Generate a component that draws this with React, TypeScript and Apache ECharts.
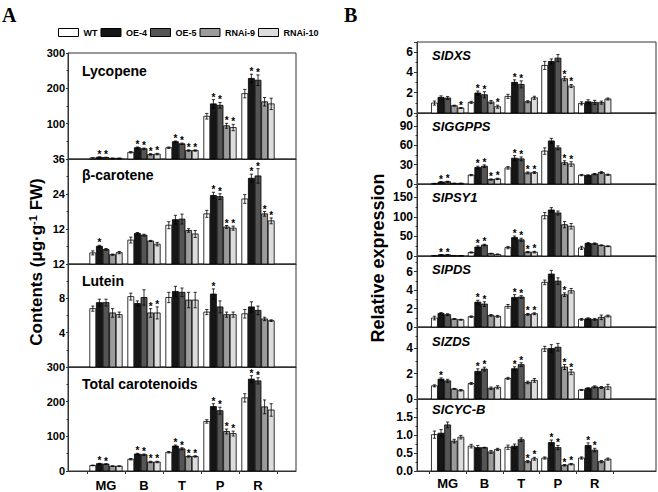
import React, { useEffect, useRef } from 'react';
import * as echarts from 'echarts';

const GROUPS = ['WT', 'OE-4', 'OE-5', 'RNAi-9', 'RNAi-10'];
const STAGES = ['MG', 'B', 'T', 'P', 'R'];
const COLORS = ['#ffffff', '#161616', '#555555', '#9b9b9b', '#dddddd'];

// rows = stages (MG, B, T, P, R); columns = groups (WT, OE-4, OE-5, RNAi-9, RNAi-10)
const lycopeneMean = [[3, 5, 4, 2, 2], [19, 32, 29, 13, 14], [32, 49, 43, 24, 24], [121, 156, 152, 94, 89], [185, 228, 223, 162, 156]];
const lycopeneErr = [[0.5, 1, 1, 0.5, 0.5], [2, 2, 2, 2, 2], [2, 2, 2, 2, 2], [8, 12, 8, 7, 9], [12, 12, 15, 12, 16]];
const lycopeneStar = [[0, 1, 1, 0, 0], [0, 1, 1, 1, 1], [0, 1, 1, 1, 1], [0, 1, 1, 1, 1], [0, 1, 1, 0, 0]];

const betaMean = [[3.8, 6.1, 5.0, 3.2, 3.9], [8.2, 10.5, 9.9, 7.9, 6.8], [13.3, 15.2, 15.4, 11.5, 10.3], [17.2, 23.5, 23.1, 12.7, 12.3], [22.3, 29.4, 30.2, 17.2, 14.8]];
const betaErr = [[0.7, 0.3, 0.3, 0.2, 0.4], [1.0, 0.3, 0.3, 0.2, 0.6], [1.2, 1.5, 1.7, 0.6, 1.2], [1.2, 1.1, 1.0, 0.5, 0.7], [1.5, 1.4, 2.5, 0.8, 1.0]];
const betaStar = [[0, 1, 0, 0, 0], [0, 0, 0, 0, 0], [0, 0, 0, 0, 0], [0, 1, 1, 1, 1], [0, 1, 1, 1, 1]];

const luteinMean = [[6.8, 7.5, 7.5, 6.3, 6.1], [8.2, 7.4, 8.1, 6.3, 6.3], [8.1, 8.8, 8.7, 7.8, 7.8], [6.4, 8.5, 7.0, 6.1, 6.1], [6.2, 7.0, 6.6, 5.6, 5.4]];
const luteinErr = [[0.3, 0.4, 0.4, 0.5, 0.3], [0.4, 0.3, 0.9, 0.5, 0.7], [0.6, 0.6, 0.5, 0.9, 0.9], [0.3, 0.6, 0.7, 0.3, 0.3], [0.5, 0.6, 0.5, 0.2, 0.1]];
const luteinStar = [[0, 0, 0, 0, 0], [0, 0, 0, 1, 1], [0, 0, 0, 0, 0], [0, 1, 0, 0, 0], [0, 0, 0, 0, 0]];

const totalMean = [[16, 21, 20, 14, 14], [34, 49, 47, 26, 26], [54, 72, 64, 42, 42], [143, 186, 174, 114, 108], [211, 265, 260, 185, 176]];
const totalErr = [[1, 1, 1, 1, 1], [2, 2, 2, 2, 2], [2, 3, 3, 2, 2], [5, 8, 10, 7, 7], [12, 10, 9, 20, 18]];
const totalStar = [[0, 1, 1, 0, 0], [0, 1, 1, 1, 1], [0, 1, 1, 1, 1], [0, 1, 1, 1, 1], [0, 1, 1, 0, 0]];

const dxsMean = [[0.98, 1.54, 1.48, 0.72, 0.49], [1.05, 1.97, 1.8, 1.08, 0.62], [1.64, 3.02, 2.82, 1.11, 1.5], [4.69, 5.08, 5.41, 3.38, 2.66], [0.95, 1.11, 1.05, 1.02, 1.38]];
const dxsErr = [[0.2, 0.15, 0.15, 0.05, 0.05], [0.1, 0.2, 0.3, 0.15, 0.15], [0.2, 0.25, 0.35, 0.1, 0.15], [0.4, 0.25, 0.35, 0.2, 0.15], [0.15, 0.2, 0.2, 0.15, 0.1]];
const dxsStar = [[0, 0, 0, 0, 1], [0, 1, 1, 0, 1], [0, 1, 1, 0, 0], [0, 0, 0, 1, 1], [0, 0, 0, 0, 0]];

const ggppsMean = [[0.8, 3, 3.5, 1, 1], [13.8, 25.6, 27.6, 6.9, 7.9], [25, 40, 39, 17.2, 17.7], [51, 66.7, 56, 33, 31], [13.8, 13.3, 15.3, 17.7, 14.3]];
const ggppsErr = [[0.3, 0.8, 0.8, 0.3, 0.3], [1, 2, 2, 1, 1], [2, 4, 3, 1.5, 1.5], [5, 4, 3, 3, 3.5], [1, 1, 1, 1.5, 1]];
const ggppsStar = [[0, 1, 1, 0, 0], [0, 1, 1, 1, 1], [0, 1, 1, 1, 1], [0, 0, 0, 1, 1], [0, 0, 0, 0, 0]];

const psy1Mean = [[1, 3, 3, 1, 1], [9, 23, 28, 6, 4], [21.5, 47, 41.4, 10, 10], [103, 117.6, 110, 80, 76], [20.7, 32.3, 31.5, 27.3, 24.9]];
const psy1Err = [[0.3, 0.5, 0.5, 0.3, 0.3], [1.5, 3, 2, 1, 1], [3, 4, 4, 1.5, 2], [8, 6, 5, 8, 7], [4, 2, 2, 1, 1]];
const psy1Star = [[0, 1, 1, 0, 0], [0, 1, 1, 0, 0], [0, 1, 1, 1, 1], [0, 0, 0, 0, 0], [0, 0, 0, 0, 0]];

const pdsMean = [[0.97, 1.48, 1.34, 0.87, 0.79], [1.12, 2.7, 2.49, 1.26, 1.16], [2.24, 3.21, 3.25, 1.37, 1.44], [4.84, 5.74, 4.98, 3.5, 3.93], [0.83, 0.9, 0.83, 1.05, 1.19]];
const pdsErr = [[0.2, 0.08, 0.1, 0.05, 0.05], [0.08, 0.2, 0.25, 0.1, 0.1], [0.2, 0.3, 0.15, 0.1, 0.1], [0.25, 0.4, 0.35, 0.2, 0.25], [0.1, 0.1, 0.1, 0.25, 0.1]];
const pdsStar = [[0, 0, 0, 0, 0], [0, 1, 1, 0, 0], [0, 1, 1, 1, 1], [0, 0, 0, 1, 0], [0, 0, 0, 0, 0]];

const zdsMean = [[1.04, 1.57, 1.44, 0.8, 0.69], [1.23, 2.19, 2.37, 0.85, 0.93], [1.63, 2.4, 2.72, 1.31, 1.47], [3.97, 4.0, 4.1, 2.53, 2.13], [0.72, 0.85, 0.96, 0.91, 0.96]];
const zdsErr = [[0.08, 0.1, 0.12, 0.04, 0.06], [0.08, 0.2, 0.15, 0.1, 0.12], [0.08, 0.15, 0.15, 0.1, 0.15], [0.2, 0.3, 0.3, 0.2, 0.2], [0.04, 0.04, 0.08, 0.08, 0.2]];
const zdsStar = [[0, 1, 0, 0, 0], [0, 1, 1, 0, 0], [0, 1, 1, 0, 0], [0, 0, 0, 1, 1], [0, 0, 0, 0, 0]];

const cycbMean = [[1.01, 1.05, 1.28, 0.83, 0.94], [0.69, 0.65, 0.65, 0.53, 0.6], [0.66, 0.69, 0.87, 0.26, 0.34], [0.36, 0.79, 0.65, 0.16, 0.19], [0.36, 0.71, 0.58, 0.26, 0.33]];
const cycbErr = [[0.1, 0.1, 0.08, 0.05, 0.05], [0.05, 0.06, 0.01, 0.04, 0.03], [0.06, 0.06, 0.05, 0.03, 0.04], [0.03, 0.07, 0.06, 0.02, 0.02], [0.03, 0.07, 0.05, 0.03, 0.03]];
const cycbStar = [[0, 0, 0, 0, 0], [0, 0, 0, 0, 0], [0, 0, 0, 1, 1], [0, 1, 1, 1, 1], [0, 1, 1, 0, 0]];

// axis ranges and ticks per subplot
const panelATitles = ['Lycopene', 'β-carotene', 'Lutein', 'Total carotenoids'];
const panelAMax = [300, 36, 12, 300];
const panelAInterval = [100, 12, 4, 100];
const panelBTitles = ['SlDXS', 'SlGGPPS', 'SlPSY1', 'SlPDS', 'SlZDS', 'SlCYC-B'];
const panelBMax = [7, 110, 184, 7.7, 5.7, 2];
const panelBInterval = [2, 30, 50, 2, 2, 0.5];

const FONT = 'Arial, "Liberation Sans", Helvetica, sans-serif';

export default function App() {
  const ref = useRef<HTMLDivElement>(null);
  useEffect(() => {
    if (!ref.current) return;
    const chart = echarts.init(ref.current, undefined, { renderer: 'svg' });

    const BW = 6;
    const BGAP = 0.6;

    const panelAData = [
      [lycopeneMean, lycopeneErr, lycopeneStar],
      [betaMean, betaErr, betaStar],
      [luteinMean, luteinErr, luteinStar],
      [totalMean, totalErr, totalStar],
    ];
    const panelBData = [
      [dxsMean, dxsErr, dxsStar],
      [ggppsMean, ggppsErr, ggppsStar],
      [psy1Mean, psy1Err, psy1Star],
      [pdsMean, pdsErr, pdsStar],
      [zdsMean, zdsErr, zdsStar],
      [cycbMean, cycbErr, cycbStar],
    ];

    // layout
    const A = { left: 68, width: 228, tops: [53, 159, 264, 367], heights: [106, 105, 103, 105], steps: 36, first: 6 };
    const B = { left: 417, width: 239, tops: [42, 113, 184, 256, 327, 399], heights: [71, 71, 72, 71, 72, 72], steps: 39, first: 5 };

    const grids: any[] = [];
    const xAxes: any[] = [];
    const yAxes: any[] = [];
    const series: any[] = [];
    const graphics: any[] = [];

    const makeCats = (steps: number, first: number) => {
      const arr: string[] = new Array(steps + 1).fill('');
      STAGES.forEach((s, i) => { arr[first + 6 * i] = s; });
      return arr;
    };

    const renderFor = (g: number) => (params: any, api: any) => {
      const x = api.value(0);
      const v = api.value(1);
      const e = api.value(2);
      const s = api.value(3);
      const p0 = api.coord([x, 0]);
      const p1 = api.coord([x, v]);
      const cx = p0[0] + (g - 2) * (BW + BGAP);
      const hi = api.coord([x, v + e])[1];
      const lo = api.coord([x, Math.max(0, v - e)])[1];
      const ls = { stroke: '#000', lineWidth: 0.8 };
      const children: any[] = [
        { type: 'rect', shape: { x: cx - BW / 2, y: p1[1], width: BW, height: p0[1] - p1[1] }, style: { fill: COLORS[g], stroke: '#000', lineWidth: 0.8 } },
        { type: 'line', shape: { x1: cx, y1: hi, x2: cx, y2: lo }, style: ls },
        { type: 'line', shape: { x1: cx - 1.6, y1: hi, x2: cx + 1.6, y2: hi }, style: ls },
        { type: 'line', shape: { x1: cx - 1.6, y1: lo, x2: cx + 1.6, y2: lo }, style: ls },
      ];
      if (s) {
        children.push({ type: 'text', x: cx, y: hi - 2.5, style: { text: '*', fill: '#000', font: 'bold 10px ' + FONT, textAlign: 'center', textVerticalAlign: 'middle' } });
      }
      return { type: 'group', children };
    };

    const addPanel = (P: any, titles: string[], maxes: number[], intervals: number[], data: any[], isA: boolean) => {
      const n = titles.length;
      const cats = makeCats(P.steps, P.first);
      const tickSet = new Set<number>();
      for (let k = 0; k <= 5; k++) tickSet.add(P.first - 3 + 6 * k);
      for (let k = 0; k < n; k++) {
        const gi = grids.length;
        const bottom = k === n - 1;
        grids.push({ left: P.left, top: P.tops[k], width: P.width, height: P.heights[k], show: true, borderColor: '#333', borderWidth: 1, containLabel: false });
        xAxes.push({
          type: 'category', gridIndex: gi, data: cats, boundaryGap: false,
          axisLine: { show: true, lineStyle: { color: '#333', width: 1 } },
          axisTick: { show: bottom, length: 3, interval: (i: number) => tickSet.has(i), lineStyle: { color: '#333' } },
          axisLabel: { show: bottom, interval: (i: number, v: string) => v !== '', margin: isA ? 8 : 6, fontSize: 13, fontWeight: 'bold', color: '#000', fontFamily: FONT },
          splitLine: { show: false },
        });
        const max = maxes[k];
        const itv = intervals[k];
        yAxes.push({
          type: 'value', gridIndex: gi, min: 0, max, interval: itv,
          axisLine: { show: true, lineStyle: { color: '#333', width: 1 } },
          axisTick: { show: true, length: isA ? 2 : 3, lineStyle: { color: '#333' } },
          minorTick: { show: true, splitNumber: 2, length: 1.5, lineStyle: { color: '#333' } },
          splitLine: { show: false },
          axisLabel: {
            margin: isA ? 3 : 4, fontSize: isA ? 11 : 12, lineHeight: 12, fontWeight: 'bold', color: '#000', fontFamily: FONT,
            formatter: (v: number) => {
              const r = v / itv;
              if (Math.abs(r - Math.round(r)) > 1e-6) return '';
              if (isA) {
                if (v === 0 && !bottom) return '';
              } else {
                if (v >= max - 1e-9) return '';
              }
              return itv < 1 ? v.toFixed(1) : String(v);
            },
          },
        });
        const [mean, err, star] = data[k];
        GROUPS.forEach((name, g) => {
          series.push({
            type: 'custom', name, xAxisIndex: gi, yAxisIndex: gi,
            itemStyle: { color: COLORS[g], borderColor: '#000', borderWidth: 1 },
            clip: false, silent: true,
            encode: { x: 0, y: 1 },
            data: STAGES.map((s, i) => [P.first + 6 * i, mean[i][g], err[i][g], star[i][g]]),
            renderItem: renderFor(g),
          });
        });
      }
    };

    addPanel(A, panelATitles, panelAMax, panelAInterval, panelAData, true);
    addPanel(B, panelBTitles, panelBMax, panelBInterval, panelBData, false);

    const aTitleY = [72, 176, 282, 385];
    panelATitles.forEach((t, i) => {
      graphics.push({ type: 'text', left: 82, top: aTitleY[i] - 8, style: { text: t, font: 'bold 14px ' + FONT, fill: '#000' } });
    });
    const bTitleY = [57, 128, 199, 271, 343, 411];
    panelBTitles.forEach((t, i) => {
      graphics.push({ type: 'text', left: 432, top: bTitleY[i] - 8, style: { text: t, font: 'italic bold 13px ' + FONT, fill: '#000' } });
    });
    graphics.push({ type: 'text', left: 2, top: 5, style: { text: 'A', font: 'bold 20px "Liberation Serif", "Times New Roman", serif', fill: '#000' } });
    graphics.push({ type: 'text', left: 344, top: 5, style: { text: 'B', font: 'bold 20px "Liberation Serif", "Times New Roman", serif', fill: '#000' } });
    graphics.push({
      type: 'text', x: 36, y: 262, rotation: Math.PI / 2,
      style: {
        text: 'Contents (μg·g{s|-1} FW)', fill: '#000', font: 'bold 17px ' + FONT,
        textAlign: 'center', textVerticalAlign: 'middle',
        rich: { s: { fontSize: 11, fontWeight: 'bold', fontFamily: FONT, verticalAlign: 'top', fill: '#000' } },
      },
    });
    graphics.push({
      type: 'text', x: 378, y: 258, rotation: Math.PI / 2,
      style: { text: 'Relative expression', fill: '#000', font: 'bold 18px ' + FONT, textAlign: 'center', textVerticalAlign: 'middle' },
    });

    chart.setOption({
      animation: false,
      backgroundColor: '#ffffff',
      textStyle: { fontFamily: FONT },
      legend: {
        left: 58, top: 28, padding: 0, itemWidth: 20, itemHeight: 8, itemGap: 3, icon: 'rect', selectedMode: false,
        textStyle: { fontSize: 9, fontWeight: 'bold', color: '#000', fontFamily: FONT },
        data: GROUPS.map((n, i) => ({ name: n, icon: 'rect', itemStyle: { color: COLORS[i], borderColor: '#000', borderWidth: 1 } })),
      },
      grid: grids,
      xAxis: xAxes,
      yAxis: yAxes,
      series,
      graphic: graphics,
    });
    return () => chart.dispose();
  }, []);
  return <div ref={ref} style={{ position: 'absolute', left: 0, top: 0, width: 658, height: 492, background: '#fff' }} />;
}
